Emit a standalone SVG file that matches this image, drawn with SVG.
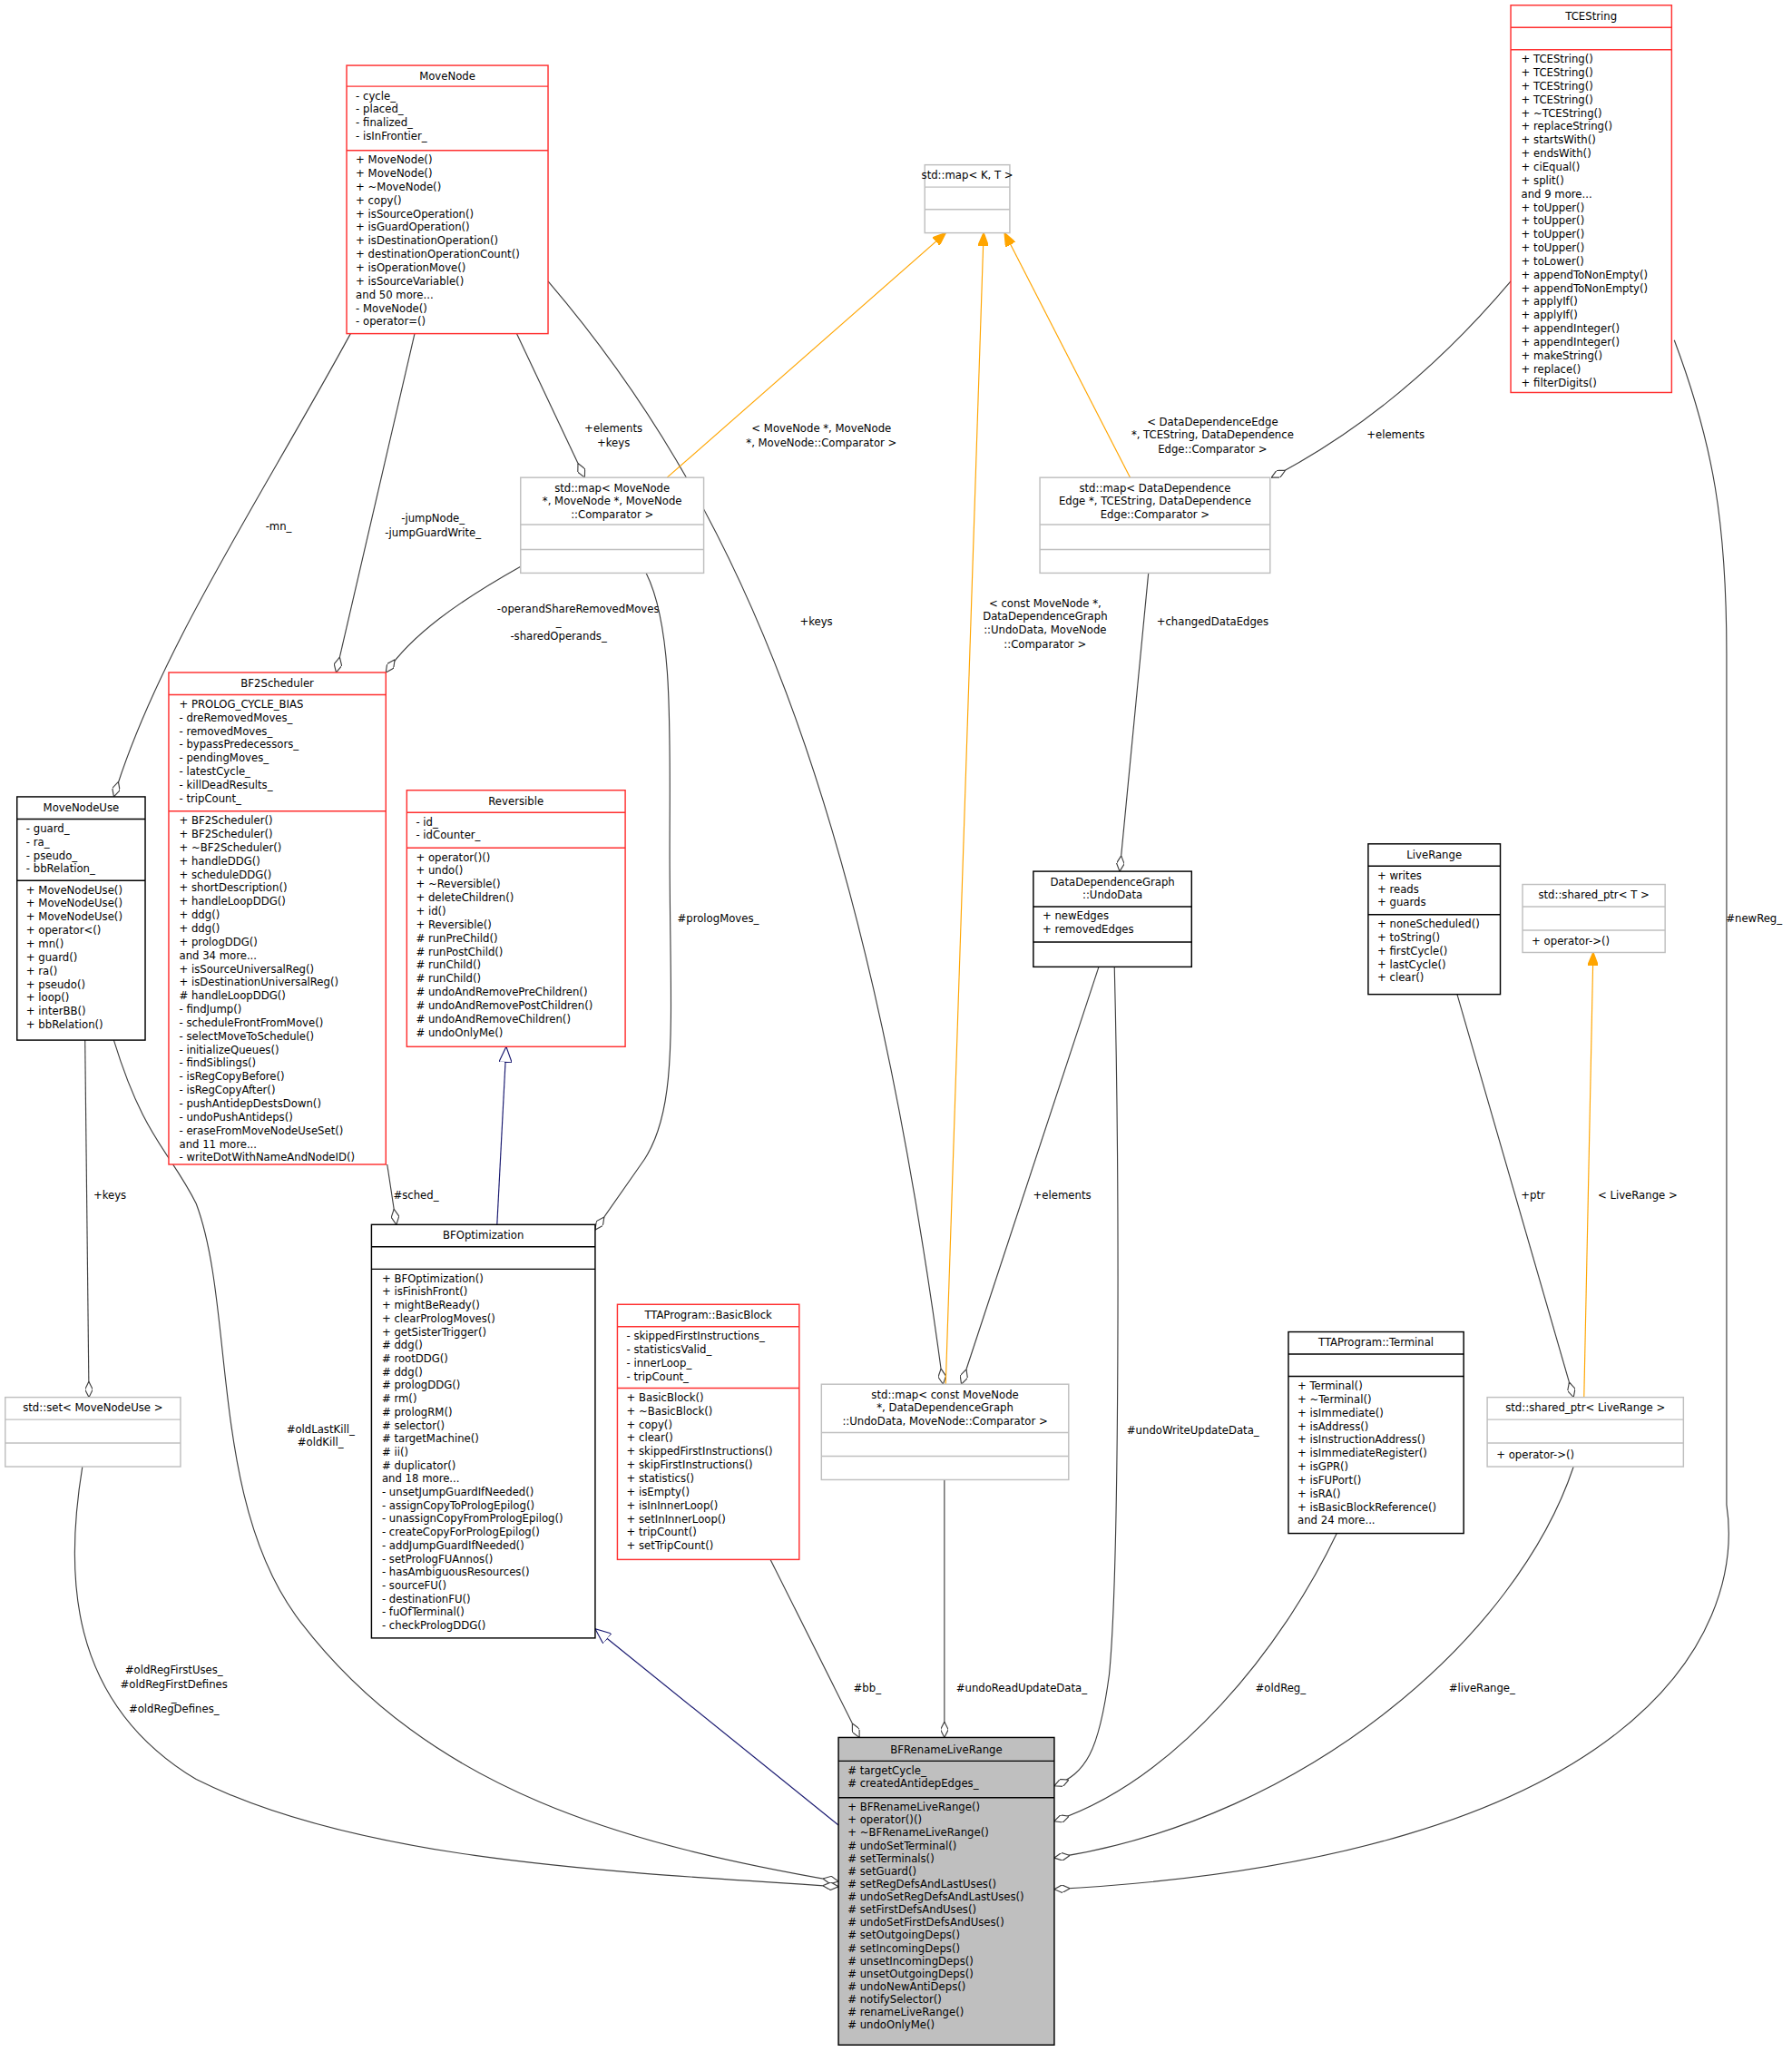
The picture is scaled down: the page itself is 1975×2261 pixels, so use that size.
<svg xmlns="http://www.w3.org/2000/svg" width="1975" height="2261" viewBox="0 0 1975 2261">
<style>
text{font-family:"DejaVu Sans Condensed","DejaVu Sans",sans-serif;font-size:9px;fill:#000}
.c{text-anchor:middle}
.r{fill:#fff;stroke:#ff3030;stroke-width:1}
.b{fill:#fff;stroke:#000;stroke-width:1}
.g{fill:#fff;stroke:#bfbfbf;stroke-width:1}
.rl{stroke:#ff3030}.bl{stroke:#000}.gl{stroke:#bfbfbf}
.e{fill:none;stroke:#404040;stroke-width:0.8}
.o{fill:none;stroke:#ffa500;stroke-width:0.8}
.n{fill:none;stroke:#191970;stroke-width:0.8}
</style>
<defs>
<marker id="dia" viewBox="0 0 12 6" refX="12" refY="3" markerWidth="12" markerHeight="6" markerUnits="userSpaceOnUse" orient="auto"><path d="M0,3 L6,0 L12,3 L6,6 Z" fill="#fff" stroke="#404040" stroke-width="0.8"/></marker>
<marker id="oa" viewBox="0 0 10 8" refX="10" refY="4" markerWidth="10" markerHeight="8" markerUnits="userSpaceOnUse" orient="auto"><path d="M0,0 L10,4 L0,8 Z" fill="#ffa500" stroke="#ffa500"/></marker>
<marker id="tri" viewBox="0 0 12 10" refX="12" refY="5" markerWidth="12" markerHeight="10" markerUnits="userSpaceOnUse" orient="auto"><path d="M0,0 L12,5 L0,10 Z" fill="#fff" stroke="#191970" stroke-width="0.8"/></marker>
</defs>
<rect width="1975" height="2261" fill="#fff"/>
<g transform="scale(1.4416)">
<g id="edges">
<path class="e" d="M268,255 C200,380 120,500 87,609" marker-end="url(#dia)"/>
<text class="c" x="213" y="405">-mn_</text>
<path class="e" d="M317,255 L257,514" marker-end="url(#dia)"/>
<text class="c" x="331" y="399">-jumpNode_</text><text class="c" x="331" y="410">-jumpGuardWrite_</text>
<path class="e" d="M395,255 L447,365" marker-end="url(#dia)"/>
<text class="c" x="469" y="330">+elements</text><text class="c" x="469" y="341">+keys</text>
<path class="e" d="M419,215 C560,380 660,600 721,1058" marker-end="url(#dia)"/>
<text class="c" x="624" y="478">+keys</text>
<path class="o" d="M510,365 L723,178" marker-end="url(#oa)"/>
<text class="c" x="628" y="330">&lt; MoveNode *, MoveNode</text><text class="c" x="628" y="341">*, MoveNode::Comparator &gt;</text>
<path class="o" d="M723,1058 L752,178" marker-end="url(#oa)"/>
<text class="c" x="799" y="464">&lt; const MoveNode *,</text><text class="c" x="799" y="474">DataDependenceGraph</text><text class="c" x="799" y="484">::UndoData, MoveNode</text><text class="c" x="799" y="495">::Comparator &gt;</text>
<path class="o" d="M864,365 L768,178" marker-end="url(#oa)"/>
<text class="c" x="927" y="325">&lt; DataDependenceEdge</text><text class="c" x="927" y="335">*, TCEString, DataDependence</text><text class="c" x="927" y="346">Edge::Comparator &gt;</text>
<path class="e" d="M1155,215 C1100,280 1040,330 972,365" marker-end="url(#dia)"/>
<text class="c" x="1067" y="335">+elements</text>
<path class="e" d="M878,438 L856,666" marker-end="url(#dia)"/>
<text class="c" x="927" y="478">+changedDataEdges</text>
<path class="e" d="M398,433 C350,460 315,485 295,514" marker-end="url(#dia)"/>
<text class="c" x="442" y="468">-operandShareRemovedMoves</text><text class="c" x="427" y="478">_</text><text class="c" x="427" y="489">-sharedOperands_</text>
<path class="e" d="M494,438 C515,480 512,560 512,650 C512,780 520,850 490,890 L455,940" marker-end="url(#dia)"/>
<text class="c" x="549" y="705">#prologMoves_</text>
<path class="e" d="M296,890 L303,936" marker-end="url(#dia)"/>
<text class="c" x="318" y="916">#sched_</text>
<path class="n" d="M380,936 L387,800" marker-end="url(#tri)"/>
<path class="e" d="M65,795 L68,1068" marker-end="url(#dia)"/>
<text class="c" x="84" y="916">+keys</text>
<path class="e" d="M87,795 C110,870 130,880 150,920 C180,1000 160,1150 230,1240 C330,1370 480,1410 641,1438" marker-end="url(#dia)"/>
<text class="c" x="245" y="1095">#oldLastKill_</text><text class="c" x="245" y="1105">#oldKill_</text>
<path class="e" d="M63,1121 C50,1200 50,1300 150,1360 C270,1420 450,1430 641,1442" marker-end="url(#dia)"/>
<text class="c" x="133" y="1279">#oldRegFirstUses_</text><text class="c" x="133" y="1290">#oldRegFirstDefines</text><text class="c" x="133" y="1300">_</text><text class="c" x="133" y="1309">#oldRegDefines_</text>
<path class="n" d="M641,1395 L455,1245" marker-end="url(#tri)"/>
<path class="e" d="M589,1192 L657,1328" marker-end="url(#dia)"/>
<text class="c" x="663" y="1293">#bb_</text>
<path class="e" d="M722,1131 L722,1328" marker-end="url(#dia)"/>
<text class="c" x="781" y="1293">#undoReadUpdateData_</text>
<path class="e" d="M840,739 L735,1058" marker-end="url(#dia)"/>
<text class="c" x="812" y="916">+elements</text>
<path class="e" d="M852,739 C856,900 856,1200 848,1280 C840,1340 830,1355 806,1365" marker-end="url(#dia)"/>
<text class="c" x="912" y="1096">#undoWriteUpdateData_</text>
<path class="e" d="M1022,1172 C980,1260 900,1360 806,1392" marker-end="url(#dia)"/>
<text class="c" x="979" y="1293">#oldReg_</text>
<path class="e" d="M1203,1121 C1160,1250 1000,1390 806,1420" marker-end="url(#dia)"/>
<text class="c" x="1133" y="1293">#liveRange_</text>
<path class="e" d="M1280,260 C1310,340 1320,400 1320,500 L1320,1150 C1335,1250 1250,1420 806,1444" marker-end="url(#dia)"/>
<text class="c" x="1341" y="705">#newReg_</text>
<path class="e" d="M1114,760 L1203,1068" marker-end="url(#dia)"/>
<text class="c" x="1172" y="916">+ptr</text>
<path class="o" d="M1211,1068 L1218,728" marker-end="url(#oa)"/>
<text class="c" x="1252" y="916">&lt; LiveRange &gt;</text>
</g>

<g id="MoveNode">
<rect class="r" x="265" y="50" width="154" height="205"/>
<line class="rl" x1="265" y1="66" x2="419" y2="66"/><line class="rl" x1="265" y1="115" x2="419" y2="115"/>
<text class="c" x="342" y="61">MoveNode</text>
<text x="272" y="76">- cycle_</text><text x="272" y="86.3">- placed_</text><text x="272" y="96.6">- finalized_</text><text x="272" y="106.9">- isInFrontier_</text>
<text x="272" y="125">+ MoveNode()</text><text x="272" y="135.3">+ MoveNode()</text><text x="272" y="145.6">+ ~MoveNode()</text><text x="272" y="155.9">+ copy()</text><text x="272" y="166.2">+ isSourceOperation()</text><text x="272" y="176.5">+ isGuardOperation()</text><text x="272" y="186.8">+ isDestinationOperation()</text><text x="272" y="197.1">+ destinationOperationCount()</text><text x="272" y="207.4">+ isOperationMove()</text><text x="272" y="217.7">+ isSourceVariable()</text><text x="272" y="228">and 50 more...</text><text x="272" y="238.3">- MoveNode()</text><text x="272" y="248.6">- operator=()</text>
</g>

<g id="mapKT">
<rect class="g" x="707" y="126" width="65" height="52"/>
<line class="gl" x1="707" y1="143" x2="772" y2="143"/><line class="gl" x1="707" y1="160" x2="772" y2="160"/>
<text class="c" x="739.5" y="137">std::map&lt; K, T &gt;</text>
</g>

<g id="TCEString">
<rect class="r" x="1155" y="4" width="123" height="296"/>
<line class="rl" x1="1155" y1="21" x2="1278" y2="21"/><line class="rl" x1="1155" y1="38" x2="1278" y2="38"/>
<text class="c" x="1216.5" y="15">TCEString</text>
<text x="1163" y="48">+ TCEString()</text><text x="1163" y="58.3">+ TCEString()</text><text x="1163" y="68.6">+ TCEString()</text><text x="1163" y="78.9">+ TCEString()</text><text x="1163" y="89.2">+ ~TCEString()</text><text x="1163" y="99.5">+ replaceString()</text><text x="1163" y="109.8">+ startsWith()</text><text x="1163" y="120.1">+ endsWith()</text><text x="1163" y="130.4">+ ciEqual()</text><text x="1163" y="140.7">+ split()</text><text x="1163" y="151">and 9 more...</text><text x="1163" y="161.3">+ toUpper()</text><text x="1163" y="171.6">+ toUpper()</text><text x="1163" y="181.9">+ toUpper()</text><text x="1163" y="192.2">+ toUpper()</text><text x="1163" y="202.5">+ toLower()</text><text x="1163" y="212.8">+ appendToNonEmpty()</text><text x="1163" y="223.1">+ appendToNonEmpty()</text><text x="1163" y="233.4">+ applyIf()</text><text x="1163" y="243.7">+ applyIf()</text><text x="1163" y="254">+ appendInteger()</text><text x="1163" y="264.3">+ appendInteger()</text><text x="1163" y="274.6">+ makeString()</text><text x="1163" y="284.9">+ replace()</text><text x="1163" y="295.2">+ filterDigits()</text>
</g>

<g id="mapMoveNode">
<rect class="g" x="398" y="365" width="140" height="73"/>
<line class="gl" x1="398" y1="401" x2="538" y2="401"/><line class="gl" x1="398" y1="420" x2="538" y2="420"/>
<text class="c" x="468" y="376">std::map&lt; MoveNode</text><text class="c" x="468" y="386">*, MoveNode *, MoveNode</text><text class="c" x="468" y="396">::Comparator &gt;</text>
</g>

<g id="mapDDE">
<rect class="g" x="795" y="365" width="176" height="73"/>
<line class="gl" x1="795" y1="401" x2="971" y2="401"/><line class="gl" x1="795" y1="420" x2="971" y2="420"/>
<text class="c" x="883" y="376">std::map&lt; DataDependence</text><text class="c" x="883" y="386">Edge *, TCEString, DataDependence</text><text class="c" x="883" y="396">Edge::Comparator &gt;</text>
</g>

<g id="BF2Scheduler">
<rect class="r" x="129" y="514" width="166" height="376"/>
<line class="rl" x1="129" y1="531" x2="295" y2="531"/><line class="rl" x1="129" y1="620" x2="295" y2="620"/>
<text class="c" x="212" y="525">BF2Scheduler</text>
<text x="137" y="541">+ PROLOG_CYCLE_BIAS</text><text x="137" y="551.3">- dreRemovedMoves_</text><text x="137" y="561.6">- removedMoves_</text><text x="137" y="571.9">- bypassPredecessors_</text><text x="137" y="582.2">- pendingMoves_</text><text x="137" y="592.5">- latestCycle_</text><text x="137" y="602.8">- killDeadResults_</text><text x="137" y="613.1">- tripCount_</text>
<text x="137" y="630">+ BF2Scheduler()</text><text x="137" y="640.3">+ BF2Scheduler()</text><text x="137" y="650.6">+ ~BF2Scheduler()</text><text x="137" y="660.9">+ handleDDG()</text><text x="137" y="671.2">+ scheduleDDG()</text><text x="137" y="681.5">+ shortDescription()</text><text x="137" y="691.8">+ handleLoopDDG()</text><text x="137" y="702.1">+ ddg()</text><text x="137" y="712.4">+ ddg()</text><text x="137" y="722.7">+ prologDDG()</text><text x="137" y="733">and 34 more...</text><text x="137" y="743.3">+ isSourceUniversalReg()</text><text x="137" y="753.6">+ isDestinationUniversalReg()</text><text x="137" y="763.9"># handleLoopDDG()</text><text x="137" y="774.2">- findJump()</text><text x="137" y="784.5">- scheduleFrontFromMove()</text><text x="137" y="794.8">- selectMoveToSchedule()</text><text x="137" y="805.1">- initializeQueues()</text><text x="137" y="815.4">- findSiblings()</text><text x="137" y="825.7">- isRegCopyBefore()</text><text x="137" y="836">- isRegCopyAfter()</text><text x="137" y="846.3">- pushAntidepDestsDown()</text><text x="137" y="856.6">- undoPushAntideps()</text><text x="137" y="866.9">- eraseFromMoveNodeUseSet()</text><text x="137" y="877.2">and 11 more...</text><text x="137" y="887.5">- writeDotWithNameAndNodeID()</text>
</g>

<g id="MoveNodeUse">
<rect class="b" x="13" y="609" width="98" height="186"/>
<line class="bl" x1="13" y1="626" x2="111" y2="626"/><line class="bl" x1="13" y1="673" x2="111" y2="673"/>
<text class="c" x="62" y="620">MoveNodeUse</text>
<text x="20" y="636">- guard_</text><text x="20" y="646.3">- ra_</text><text x="20" y="656.6">- pseudo_</text><text x="20" y="666.9">- bbRelation_</text>
<text x="20" y="683">+ MoveNodeUse()</text><text x="20" y="693.3">+ MoveNodeUse()</text><text x="20" y="703.6">+ MoveNodeUse()</text><text x="20" y="713.9">+ operator&lt;()</text><text x="20" y="724.2">+ mn()</text><text x="20" y="734.5">+ guard()</text><text x="20" y="744.8">+ ra()</text><text x="20" y="755.1">+ pseudo()</text><text x="20" y="765.4">+ loop()</text><text x="20" y="775.7">+ interBB()</text><text x="20" y="786">+ bbRelation()</text>
</g>

<g id="Reversible">
<rect class="r" x="311" y="604" width="167" height="196"/>
<line class="rl" x1="311" y1="621" x2="478" y2="621"/><line class="rl" x1="311" y1="648" x2="478" y2="648"/>
<text class="c" x="394.5" y="615">Reversible</text>
<text x="318" y="631">- id_</text><text x="318" y="641.3">- idCounter_</text>
<text x="318" y="658">+ operator()()</text><text x="318" y="668.3">+ undo()</text><text x="318" y="678.6">+ ~Reversible()</text><text x="318" y="688.9">+ deleteChildren()</text><text x="318" y="699.2">+ id()</text><text x="318" y="709.5">+ Reversible()</text><text x="318" y="719.8"># runPreChild()</text><text x="318" y="730.1"># runPostChild()</text><text x="318" y="740.4"># runChild()</text><text x="318" y="750.7"># runChild()</text><text x="318" y="761"># undoAndRemovePreChildren()</text><text x="318" y="771.3"># undoAndRemovePostChildren()</text><text x="318" y="781.6"># undoAndRemoveChildren()</text><text x="318" y="791.9"># undoOnlyMe()</text>
</g>

<g id="UndoData">
<rect class="b" x="790" y="666" width="121" height="73"/>
<line class="bl" x1="790" y1="693" x2="911" y2="693"/><line class="bl" x1="790" y1="720" x2="911" y2="720"/>
<text class="c" x="850.5" y="677">DataDependenceGraph</text><text class="c" x="850.5" y="687">::UndoData</text>
<text x="797" y="703">+ newEdges</text><text x="797" y="713.3">+ removedEdges</text>
</g>

<g id="LiveRange">
<rect class="b" x="1046" y="645" width="101" height="115"/>
<line class="bl" x1="1046" y1="662" x2="1147" y2="662"/><line class="bl" x1="1046" y1="699" x2="1147" y2="699"/>
<text class="c" x="1096.5" y="656">LiveRange</text>
<text x="1053" y="672">+ writes</text><text x="1053" y="682.3">+ reads</text><text x="1053" y="692.6">+ guards</text>
<text x="1053" y="709">+ noneScheduled()</text><text x="1053" y="719.3">+ toString()</text><text x="1053" y="729.6">+ firstCycle()</text><text x="1053" y="739.9">+ lastCycle()</text><text x="1053" y="750.2">+ clear()</text>
</g>

<g id="sharedPtrT">
<rect class="g" x="1164" y="676" width="109" height="52"/>
<line class="gl" x1="1164" y1="693" x2="1273" y2="693"/><line class="gl" x1="1164" y1="711" x2="1273" y2="711"/>
<text class="c" x="1218.5" y="687">std::shared_ptr&lt; T &gt;</text>
<text x="1171" y="722">+ operator-&gt;()</text>
</g>

<g id="BFOptimization">
<rect class="b" x="284" y="936" width="171" height="316"/>
<line class="bl" x1="284" y1="953" x2="455" y2="953"/><line class="bl" x1="284" y1="970" x2="455" y2="970"/>
<text class="c" x="369.5" y="947">BFOptimization</text>
<text x="292" y="980">+ BFOptimization()</text><text x="292" y="990.2">+ isFinishFront()</text><text x="292" y="1000.4">+ mightBeReady()</text><text x="292" y="1010.6">+ clearPrologMoves()</text><text x="292" y="1020.8">+ getSisterTrigger()</text><text x="292" y="1031"># ddg()</text><text x="292" y="1041.2"># rootDDG()</text><text x="292" y="1051.4"># ddg()</text><text x="292" y="1061.6"># prologDDG()</text><text x="292" y="1071.8"># rm()</text><text x="292" y="1082"># prologRM()</text><text x="292" y="1092.2"># selector()</text><text x="292" y="1102.4"># targetMachine()</text><text x="292" y="1112.6"># ii()</text><text x="292" y="1122.8"># duplicator()</text><text x="292" y="1133">and 18 more...</text><text x="292" y="1143.2">- unsetJumpGuardIfNeeded()</text><text x="292" y="1153.4">- assignCopyToPrologEpilog()</text><text x="292" y="1163.6">- unassignCopyFromPrologEpilog()</text><text x="292" y="1173.8">- createCopyForPrologEpilog()</text><text x="292" y="1184">- addJumpGuardIfNeeded()</text><text x="292" y="1194.2">- setPrologFUAnnos()</text><text x="292" y="1204.4">- hasAmbiguousResources()</text><text x="292" y="1214.6">- sourceFU()</text><text x="292" y="1224.8">- destinationFU()</text><text x="292" y="1235">- fuOfTerminal()</text><text x="292" y="1245.2">- checkPrologDDG()</text>
</g>

<g id="BasicBlock">
<rect class="r" x="472" y="997" width="139" height="195"/>
<line class="rl" x1="472" y1="1014" x2="611" y2="1014"/><line class="rl" x1="472" y1="1061" x2="611" y2="1061"/>
<text class="c" x="541.5" y="1008">TTAProgram::BasicBlock</text>
<text x="479" y="1024">- skippedFirstInstructions_</text><text x="479" y="1034.3">- statisticsValid_</text><text x="479" y="1044.6">- innerLoop_</text><text x="479" y="1054.9">- tripCount_</text>
<text x="479" y="1071">+ BasicBlock()</text><text x="479" y="1081.3">+ ~BasicBlock()</text><text x="479" y="1091.6">+ copy()</text><text x="479" y="1101.9">+ clear()</text><text x="479" y="1112.2">+ skippedFirstInstructions()</text><text x="479" y="1122.5">+ skipFirstInstructions()</text><text x="479" y="1132.8">+ statistics()</text><text x="479" y="1143.1">+ isEmpty()</text><text x="479" y="1153.4">+ isInInnerLoop()</text><text x="479" y="1163.7">+ setInInnerLoop()</text><text x="479" y="1174">+ tripCount()</text><text x="479" y="1184.3">+ setTripCount()</text>
</g>

<g id="mapConstMoveNode">
<rect class="g" x="628" y="1058" width="189" height="73"/>
<line class="gl" x1="628" y1="1095" x2="817" y2="1095"/><line class="gl" x1="628" y1="1113" x2="817" y2="1113"/>
<text class="c" x="722.5" y="1069">std::map&lt; const MoveNode</text><text class="c" x="722.5" y="1079">*, DataDependenceGraph</text><text class="c" x="722.5" y="1089">::UndoData, MoveNode::Comparator &gt;</text>
</g>

<g id="Terminal">
<rect class="b" x="985" y="1018" width="134" height="154"/>
<line class="bl" x1="985" y1="1035" x2="1119" y2="1035"/><line class="bl" x1="985" y1="1052" x2="1119" y2="1052"/>
<text class="c" x="1052" y="1029">TTAProgram::Terminal</text>
<text x="992" y="1062">+ Terminal()</text><text x="992" y="1072.3">+ ~Terminal()</text><text x="992" y="1082.6">+ isImmediate()</text><text x="992" y="1092.9">+ isAddress()</text><text x="992" y="1103.2">+ isInstructionAddress()</text><text x="992" y="1113.5">+ isImmediateRegister()</text><text x="992" y="1123.8">+ isGPR()</text><text x="992" y="1134.1">+ isFUPort()</text><text x="992" y="1144.4">+ isRA()</text><text x="992" y="1154.7">+ isBasicBlockReference()</text><text x="992" y="1165">and 24 more...</text>
</g>

<g id="setMoveNodeUse">
<rect class="g" x="4" y="1068" width="134" height="53"/>
<line class="gl" x1="4" y1="1085" x2="138" y2="1085"/><line class="gl" x1="4" y1="1103" x2="138" y2="1103"/>
<text class="c" x="71" y="1079">std::set&lt; MoveNodeUse &gt;</text>
</g>

<g id="sharedPtrLiveRange">
<rect class="g" x="1137" y="1068" width="150" height="53"/>
<line class="gl" x1="1137" y1="1085" x2="1287" y2="1085"/><line class="gl" x1="1137" y1="1103" x2="1287" y2="1103"/>
<text class="c" x="1212" y="1079">std::shared_ptr&lt; LiveRange &gt;</text>
<text x="1144" y="1115">+ operator-&gt;()</text>
</g>

<g id="BFRenameLiveRange">
<rect x="641" y="1328" width="165" height="235" fill="#bfbfbf" stroke="#000"/>
<line class="bl" x1="641" y1="1346" x2="806" y2="1346"/><line class="bl" x1="641" y1="1374" x2="806" y2="1374"/>
<text class="c" x="723.5" y="1340">BFRenameLiveRange</text>
<text x="648" y="1356"># targetCycle_</text><text x="648" y="1366"># createdAntidepEdges_</text>
<text x="648" y="1384">+ BFRenameLiveRange()</text><text x="648" y="1393.8">+ operator()()</text><text x="648" y="1403.6">+ ~BFRenameLiveRange()</text><text x="648" y="1413.4"># undoSetTerminal()</text><text x="648" y="1423.2"># setTerminals()</text><text x="648" y="1433"># setGuard()</text><text x="648" y="1442.8"># setRegDefsAndLastUses()</text><text x="648" y="1452.6"># undoSetRegDefsAndLastUses()</text><text x="648" y="1462.4"># setFirstDefsAndUses()</text><text x="648" y="1472.2"># undoSetFirstDefsAndUses()</text><text x="648" y="1482"># setOutgoingDeps()</text><text x="648" y="1491.8"># setIncomingDeps()</text><text x="648" y="1501.6"># unsetIncomingDeps()</text><text x="648" y="1511.4"># unsetOutgoingDeps()</text><text x="648" y="1521.2"># undoNewAntiDeps()</text><text x="648" y="1531"># notifySelector()</text><text x="648" y="1540.8"># renameLiveRange()</text><text x="648" y="1550.6"># undoOnlyMe()</text>
</g>
</g>
</svg>
